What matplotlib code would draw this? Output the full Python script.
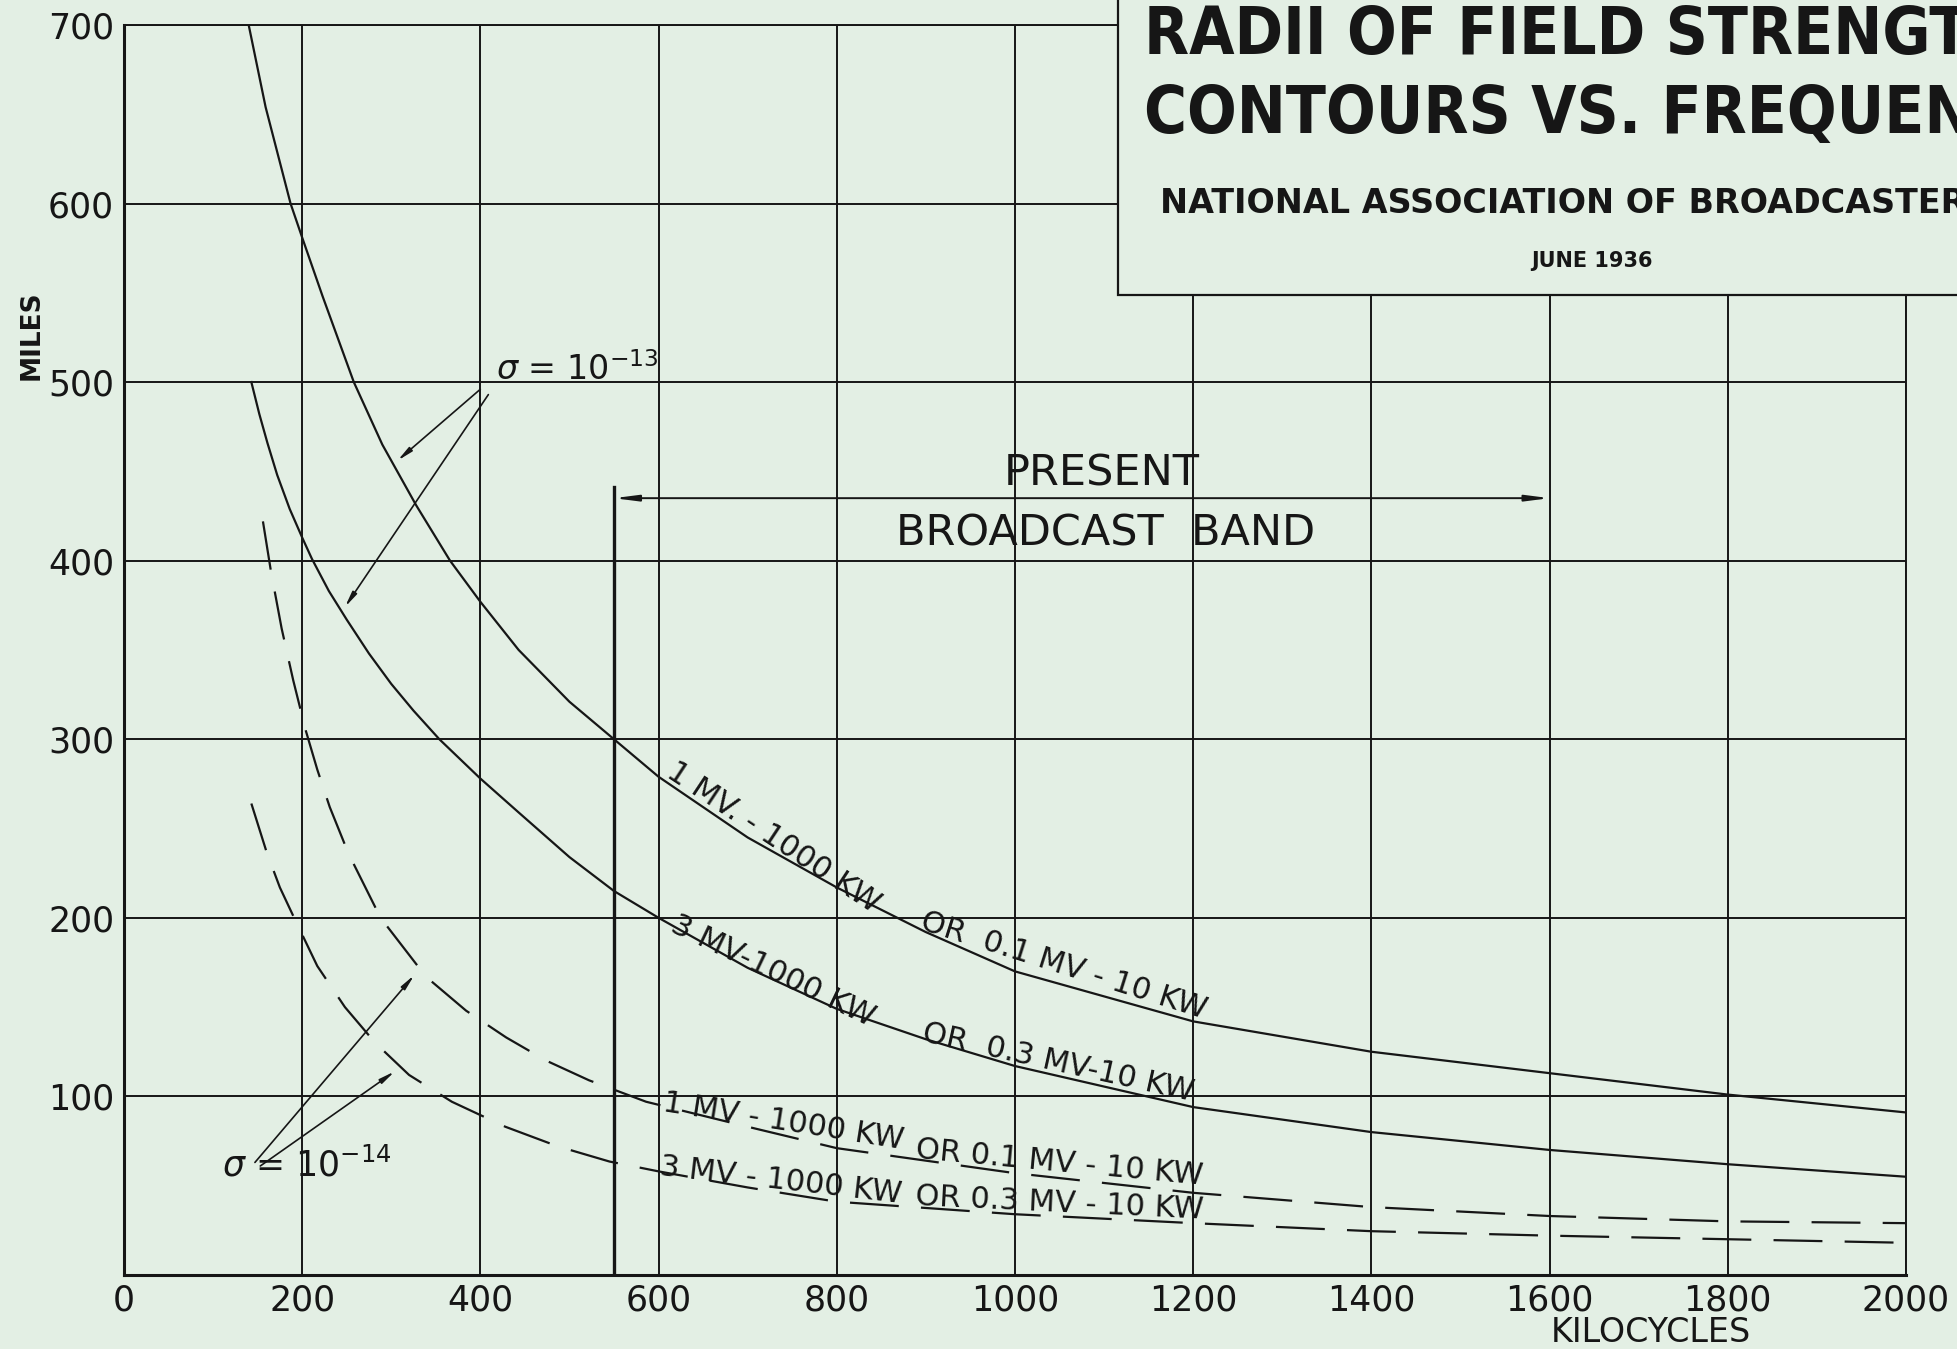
import matplotlib
matplotlib.use('Agg')
import matplotlib.pyplot as plt
from matplotlib.patches import Rectangle

BG = '#e3efe4'
INK = '#161616'

# radius (miles) vs frequency (kilocycles)
kc_1mv_13 = [140, 159, 187, 200, 223, 258, 290, 328, 366, 400, 443, 500, 550,
             600, 700, 800, 900, 1000, 1200, 1400, 1600, 1800, 2000]
mi_1mv_13 = [700, 654, 600, 581, 548, 500, 465, 431, 400, 377, 350, 321, 300,
             279, 245, 217, 192, 170, 142, 125, 113, 101, 91]

kc_3mv_13 = [143, 152, 161, 172, 186, 200, 211, 230, 250, 275, 300, 325, 354,
             400, 443, 500, 550, 600, 700, 800, 900, 1000, 1200, 1400, 1600,
             1800, 2000]
mi_3mv_13 = [500, 482, 466, 448, 429, 413, 401, 383, 367, 348, 331, 316, 300,
             278, 259, 234, 215, 200, 172, 149, 132, 117, 94, 80, 70,
             62, 55]

kc_1mv_14 = [156, 165, 177, 190, 204, 217, 231, 252, 288, 339, 384, 429, 474,
             522, 586, 700, 800, 1000, 1200, 1400, 1600, 1800, 2000]
mi_1mv_14 = [422, 394, 362, 333, 305, 283, 262, 236, 200, 167, 148, 133, 120,
             109, 97, 83, 71, 57, 46, 38, 33, 30, 29]

kc_3mv_14 = [143, 160, 175, 191, 217, 248, 282, 320, 368, 428, 487, 545, 600,
             700, 800, 1000, 1200, 1400, 1600, 1800, 2000]
mi_3mv_14 = [264, 237, 217, 200, 173, 150, 130, 112, 97, 83, 72, 63.5, 58,
             49, 41, 34, 29, 24.5, 22, 20, 18]

band_low, band_high = 550, 1600

x_ticks = [0, 200, 400, 600, 800, 1000, 1200, 1400, 1600, 1800, 2000]
y_ticks = [100, 200, 300, 400, 500, 600, 700]

lab_1mv = ('1 MV. - 1000 KW', 'OR  0.1 MV - 10 KW')
lab_3mv = ('3 MV-1000 KW', 'OR  0.3 MV-10 KW')
lab_1mv_d = ('1 MV - 1000 KW', 'OR 0.1 MV - 10 KW')
lab_3mv_d = ('3 MV - 1000 KW', 'OR 0.3 MV - 10 KW')

fig = plt.figure(figsize=(19.58, 13.49), dpi=100, facecolor=BG)
ax = fig.add_axes([0.0633, 0.0549, 0.9101, 0.9266])
ax.set_facecolor(BG)
ax.set_xlim(0, 2000)
ax.set_ylim(0, 700)

ax.set_xticks(x_ticks)
ax.set_yticks(y_ticks)
ax.set_xticklabels([str(v) for v in x_ticks])
ax.set_yticklabels([str(v) for v in y_ticks])
ax.tick_params(length=0, labelsize=25, colors=INK)
ax.tick_params(axis='y', pad=7)
ax.tick_params(axis='x', pad=6)
ax.grid(True, color=INK, lw=1.4)
for s in ax.spines.values():
    s.set_color(INK)
    s.set_linewidth(1.4)
ax.spines['left'].set_linewidth(2.2)
ax.spines['bottom'].set_linewidth(2.2)

lw = 1.6
ax.plot(kc_1mv_13, mi_1mv_13, color=INK, lw=lw)
ax.plot(kc_3mv_13, mi_3mv_13, color=INK, lw=lw)
ax.plot(kc_1mv_14, mi_1mv_14, color=INK, lw=lw, dashes=(22, 10))
ax.plot(kc_3mv_14, mi_3mv_14, color=INK, lw=lw, dashes=(22, 10))

# present broadcast band
ax.plot([band_low, band_low], [0, 441], color=INK, lw=2.4)
ax.annotate('', xy=(band_low, 435), xytext=(band_high, 435),
            arrowprops=dict(arrowstyle='<|-|>,head_width=0.18,head_length=1.4',
                            color=INK, lw=1.4, shrinkA=0, shrinkB=0))
ax.text(1097, 449, 'PRESENT', fontsize=31, ha='center', va='center', color=INK)
ax.text(1102, 415, 'BROADCAST  BAND', fontsize=31, ha='center', va='center', color=INK)

# sigma labels and pointers
ax.text(418, 501, r'$\sigma$ = 10$^{-13}$', fontsize=24, ha='left', va='baseline', color=INK)
ax.text(110, 55, r'$\sigma$ = 10$^{-14}$', fontsize=25, ha='left', va='baseline', color=INK)
ap = dict(arrowstyle='-|>,head_width=0.15,head_length=0.9', color=INK, lw=1.2,
          shrinkA=0, shrinkB=0)
ax.annotate('', xy=(307, 456), xytext=(400, 496), arrowprops=ap)
ax.annotate('', xy=(248, 374), xytext=(409, 493), arrowprops=ap)
ax.annotate('', xy=(326, 168), xytext=(147, 63), arrowprops=ap)
ax.annotate('', xy=(304, 114), xytext=(153, 61), arrowprops=ap)

# curve labels, set along the curves
tk = dict(fontsize=22, ha='center', va='center', color=INK, rotation_mode='anchor')
ax.text(729, 245, lab_1mv[0], rotation=-33.5, **tk)
ax.text(1055, 173, lab_1mv[1], rotation=-17.5, **tk)
ax.text(728, 170, lab_3mv[0], rotation=-25.5, **tk)
ax.text(1048, 119, lab_3mv[1], rotation=-12.5, **tk)
ax.text(740, 86, lab_1mv_d[0], rotation=-9, **tk)
ax.text(1050, 63, lab_1mv_d[1], rotation=-5.3, **tk)
ax.text(737, 53, lab_3mv_d[0], rotation=-6.6, **tk)
ax.text(1050, 40, lab_3mv_d[1], rotation=-2.7, **tk)

# axis titles
fig.text(32 / 1958, 1 - 335 / 1349, 'MILES', rotation=90, fontsize=19,
         fontweight='bold', ha='center', va='center', color=INK)
fig.text(1651 / 1958, 1 - 1333 / 1349, 'KILOCYCLES', fontsize=24,
         ha='center', va='center', color=INK)

# title box
fig.patches.append(Rectangle((1118 / 1958, 1 - 295 / 1349), 0.6, 0.4,
                             transform=fig.transFigure, facecolor=BG,
                             edgecolor=INK, lw=1.6, zorder=5))
tt = dict(ha='left', va='baseline', color=INK, zorder=6)
fig.text(1144 / 1958, 1 - 54 / 1349, 'RADII OF FIELD STRENGTH', fontsize=47,
         fontweight='bold', fontstretch='condensed', **tt)
fig.text(1144 / 1958, 1 - 133 / 1349, 'CONTOURS VS. FREQUENCY', fontsize=47,
         fontweight='bold', fontstretch='condensed', **tt)
fig.text(1160 / 1958, 1 - 213 / 1349, 'NATIONAL ASSOCIATION OF BROADCASTERS',
         fontsize=24, fontweight='bold', **tt)
fig.text(1592 / 1958, 1 - 267 / 1349, 'JUNE 1936', fontsize=15,
         fontweight='bold', ha='center', va='baseline', color=INK, zorder=6)

fig.savefig('out.png', dpi=100, facecolor=BG)
